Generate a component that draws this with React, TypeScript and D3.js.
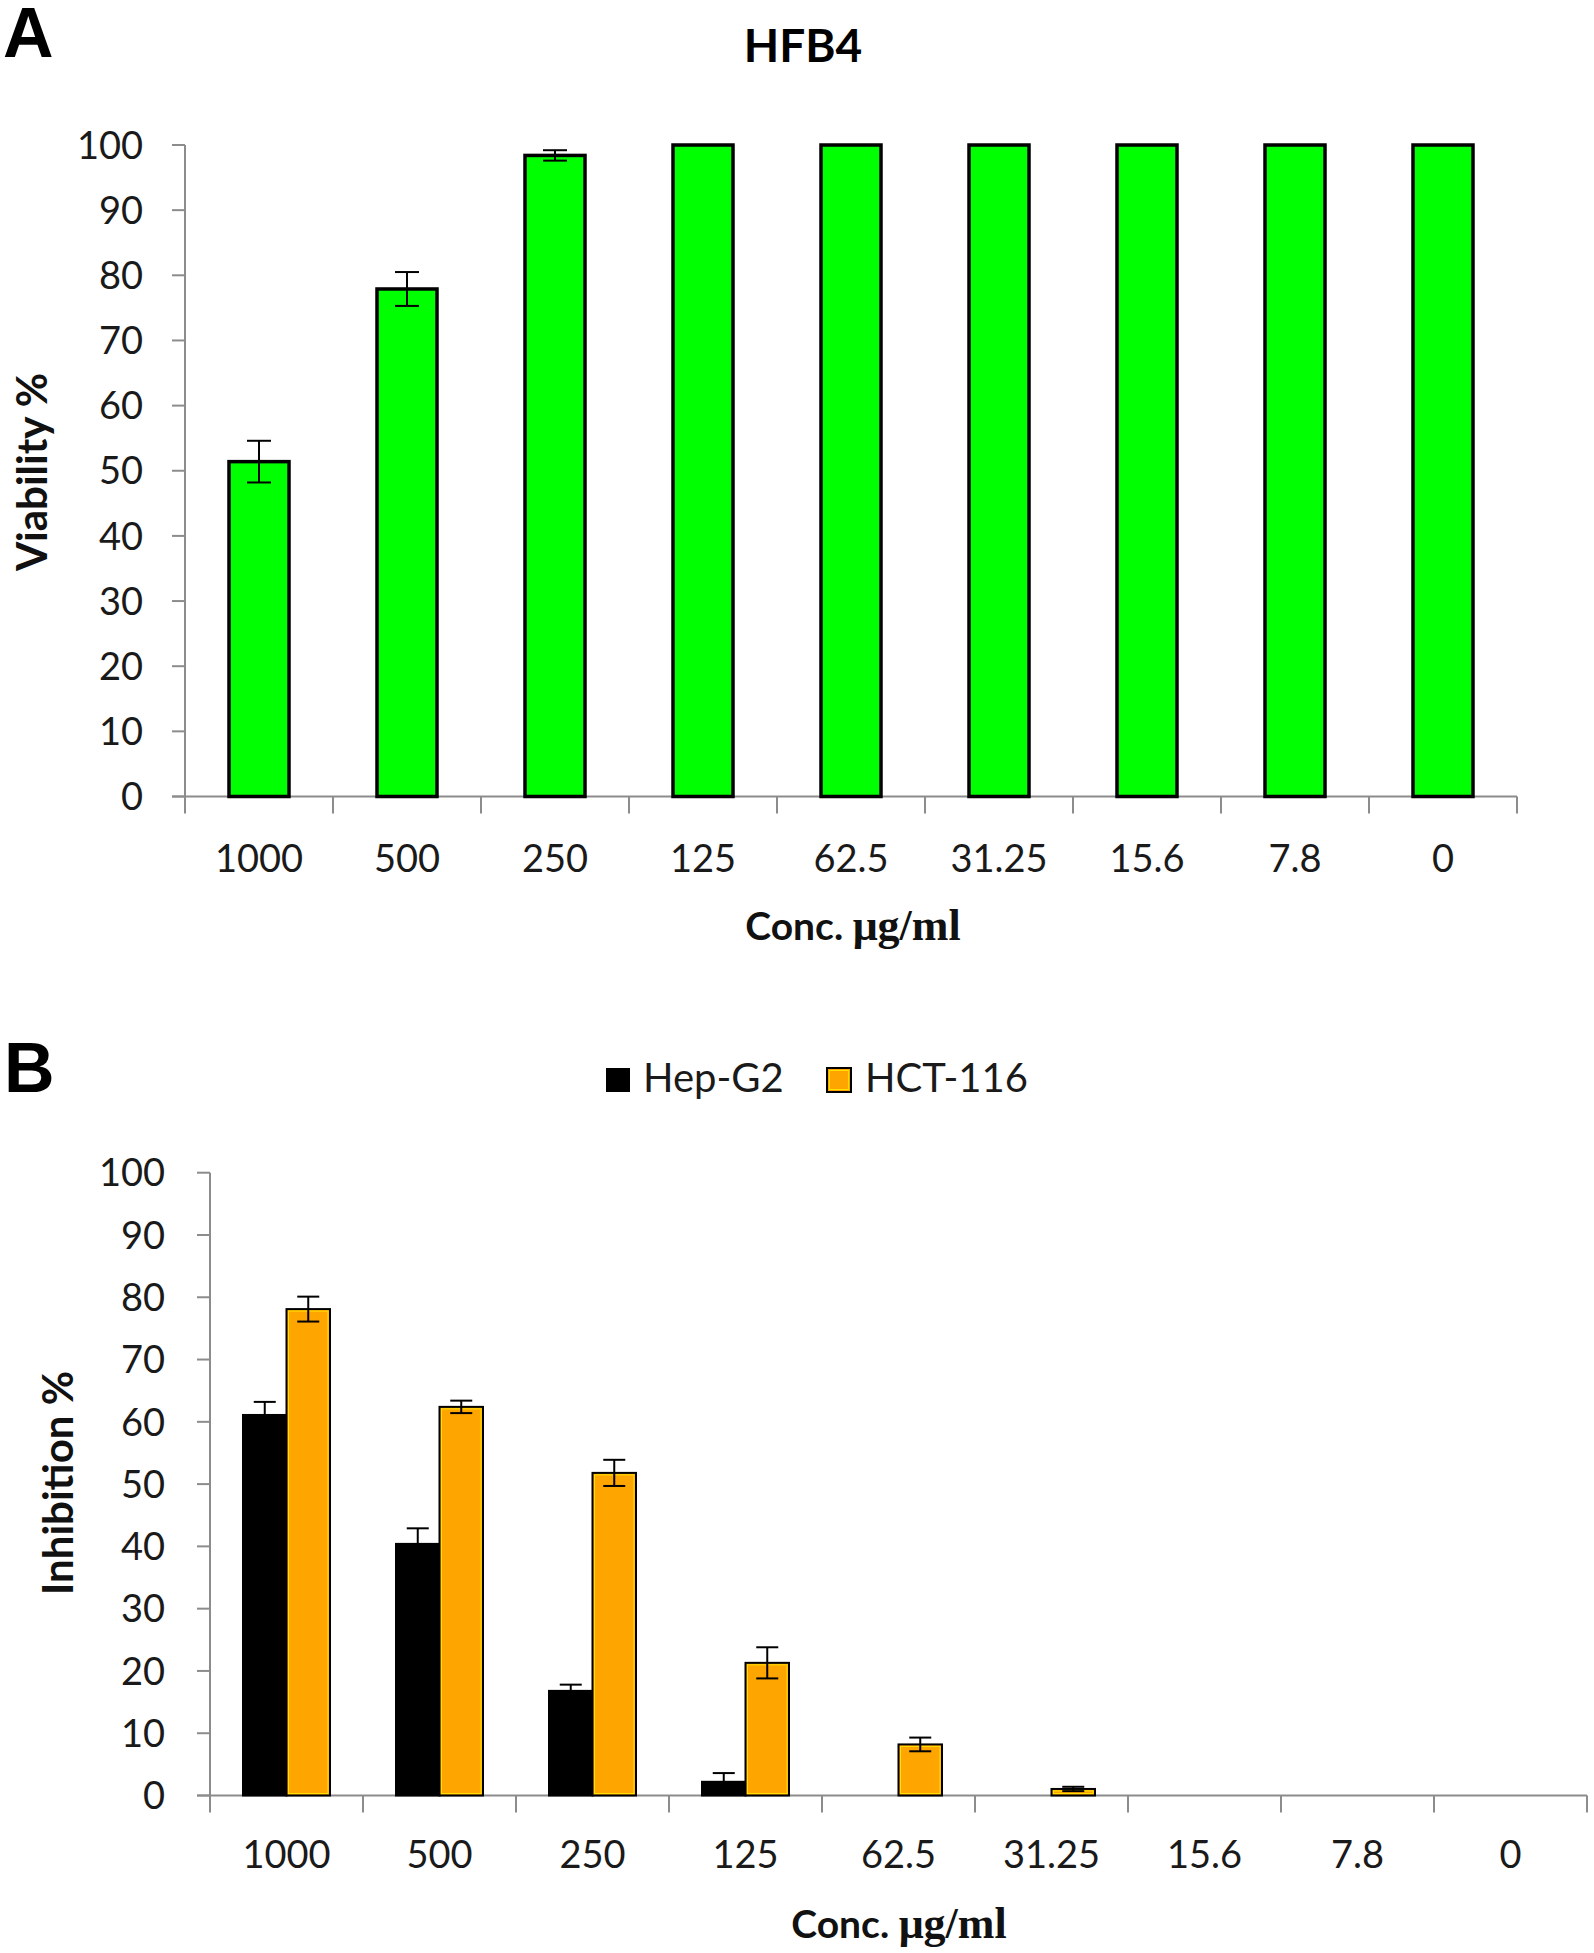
import React from "react";
import * as d3 from "d3";

const categories = ["1000", "500", "250", "125", "62.5", "31.25", "15.6", "7.8", "0"];
const viability = [51.4, 77.9, 98.4, 100, 100, 100, 100, 100, 100];
const viabilityErr = [3.2, 2.6, 0.8, 0, 0, 0, 0, 0, 0];
const seriesNames = ["Hep-G2", "HCT-116"];
const hepG2 = [61.1, 40.4, 16.8, 2.2, 0, 0, 0, 0, 0];
const hepG2Err = [2.1, 2.5, 1.0, 1.4, 0, 0, 0, 0, 0];
const hct116 = [78.1, 62.4, 51.8, 21.3, 8.2, 1.05, 0, 0, 0];
const hct116Err = [2.0, 1.0, 2.1, 2.5, 1.1, 0.35, 0, 0, 0];
const yTicks = [0, 10, 20, 30, 40, 50, 60, 70, 80, 90, 100];

const SANS = "Lato, 'Open Sans', sans-serif";
const SERIF = "'Liberation Serif', 'DejaVu Serif', serif";
const AXIS = "#8c8c8c";

export default function App() {
  // Panel A scales
  const xA = d3.scaleBand<string>().domain(categories).range([185, 1517]).padding(0);
  const yA = d3.scaleLinear().domain([0, 100]).range([796.5, 145]);
  const barWA = 60;

  // Panel B scales
  const xB = d3.scaleBand<string>().domain(categories).range([210, 1587]).padding(0);
  const yB = d3.scaleLinear().domain([0, 100]).range([1795.5, 1172.7]);
  const groupW = 87;
  const xSub = d3.scaleBand<string>().domain(seriesNames).range([-groupW / 2, groupW / 2]).padding(0);
  const seriesData = [
    { name: "Hep-G2", vals: hepG2, errs: hepG2Err, fill: "#000000" },
    { name: "HCT-116", vals: hct116, errs: hct116Err, fill: "#FFA500" },
  ];

  const boundariesA = [...categories.map((c) => xA(c)!), xA.range()[1]];
  const boundariesB = [...categories.map((c) => xB(c)!), xB.range()[1]];

  return (
    <svg
      width={1594}
      height={1953}
      style={{ position: "absolute", left: 0, top: 0, background: "#fff" }}
    >
      <rect x={0} y={0} width={1594} height={1953} fill="#fff" />
      {/* ===== Panel A ===== */}
      <text x={3} y={57} fontFamily="'Liberation Sans', Arial, sans-serif" fontWeight="bold" fontSize={70}>A</text>
      <text x={803} y={62} textAnchor="middle" fontFamily={SANS} fontWeight="bold" fontSize={46}>HFB4</text>

      {/* y axis */}
      <line x1={185} x2={185} y1={yA(100)} y2={yA(0)} stroke={AXIS} strokeWidth={2} />
      {yTicks.map((t) => (
        <g key={"ya" + t}>
          <line x1={172} x2={185} y1={yA(t)} y2={yA(t)} stroke={AXIS} strokeWidth={2} />
          <text x={143} y={yA(t)} dy="0.36em" textAnchor="end" fontFamily={SANS} fontSize={38} fill="#1a1a1a">{t}</text>
        </g>
      ))}
      {/* x axis */}
      <line x1={172} x2={1517} y1={yA(0)} y2={yA(0)} stroke={AXIS} strokeWidth={2} />
      {boundariesA.map((b, i) => (
        <line key={"xa" + i} x1={b} x2={b} y1={yA(0)} y2={yA(0) + 17} stroke={AXIS} strokeWidth={2} />
      ))}
      {/* bars A */}
      {categories.map((c, i) => {
        const cx = xA(c)! + xA.bandwidth() / 2;
        return (
          <g key={"ba" + c}>
            <rect x={cx - barWA / 2} y={yA(viability[i])} width={barWA} height={yA(0) - yA(viability[i])} fill="#00FF00" stroke="#000" strokeWidth={3.5} />
            {viabilityErr[i] > 0 && (
              <g stroke="#000" strokeWidth={2}>
                <line x1={cx} x2={cx} y1={yA(viability[i] + viabilityErr[i])} y2={yA(viability[i] - viabilityErr[i])} />
                <line x1={cx - 12} x2={cx + 12} y1={yA(viability[i] + viabilityErr[i])} y2={yA(viability[i] + viabilityErr[i])} />
                <line x1={cx - 12} x2={cx + 12} y1={yA(viability[i] - viabilityErr[i])} y2={yA(viability[i] - viabilityErr[i])} />
              </g>
            )}
          </g>
        );
      })}
      {categories.map((c) => (
        <text key={"la" + c} x={xA(c)! + xA.bandwidth() / 2} y={872} textAnchor="middle" fontFamily={SANS} fontSize={38} fill="#1a1a1a">{c}</text>
      ))}
      <text x={853} y={940} textAnchor="middle" fontWeight="bold" fill="#111">
        <tspan fontFamily={SANS} fontSize={39}>Conc. </tspan>
        <tspan fontFamily={SERIF} fontSize={44}>μg/ml</tspan>
      </text>
      <text transform="translate(47,472) rotate(-90)" textAnchor="middle" fontFamily={SANS} fontWeight="bold" fontSize={42} fill="#111">Viability %</text>

      {/* ===== Panel B ===== */}
      <text x={4} y={1092} fontFamily="'Liberation Sans', Arial, sans-serif" fontWeight="bold" fontSize={70}>B</text>
      {/* legend */}
      <rect x={606} y={1068} width={24} height={24} fill="#000" />
      <text x={643} y={1092} fontFamily={SANS} fontSize={40} fill="#1a1a1a">{seriesNames[0]}</text>
      <rect x={827} y={1068} width={24} height={24} fill="#FFA500" stroke="#000" strokeWidth={2} />
      <rect x={829.5} y={1070.5} width={19} height={19} fill="none" stroke="#FFE000" strokeWidth={1} />
      <text x={865} y={1092} fontFamily={SANS} fontSize={40} fill="#1a1a1a">{seriesNames[1]}</text>

      {/* y axis */}
      <line x1={210} x2={210} y1={yB(100)} y2={yB(0)} stroke={AXIS} strokeWidth={2} />
      {yTicks.map((t) => (
        <g key={"yb" + t}>
          <line x1={197} x2={210} y1={yB(t)} y2={yB(t)} stroke={AXIS} strokeWidth={2} />
          <text x={165} y={yB(t)} dy="0.36em" textAnchor="end" fontFamily={SANS} fontSize={38} fill="#1a1a1a">{t}</text>
        </g>
      ))}
      <line x1={197} x2={1587} y1={yB(0)} y2={yB(0)} stroke={AXIS} strokeWidth={2} />
      {boundariesB.map((b, i) => (
        <line key={"xb" + i} x1={b} x2={b} y1={yB(0)} y2={yB(0) + 17} stroke={AXIS} strokeWidth={2} />
      ))}
      {/* bars B */}
      {categories.map((c, i) => {
        const gx = xB(c)! + xB.bandwidth() / 2;
        return (
          <g key={"bb" + c}>
            {seriesData.map((s) => {
              const v = s.vals[i];
              if (v <= 0) return null;
              const x0 = gx + xSub(s.name)!;
              const w = xSub.bandwidth();
              const cx = x0 + w / 2;
              const e = s.errs[i];
              const h = yB(0) - yB(v);
              return (
                <g key={s.name}>
                  <rect x={x0} y={yB(v)} width={w} height={h} fill={s.fill} stroke="#000" strokeWidth={2} />
                  {s.name === "HCT-116" && h > 4 && (
                    <rect x={x0 + 2} y={yB(v) + 2} width={w - 4} height={h - 4} fill="none" stroke="#FFE000" strokeWidth={1} />
                  )}
                  {e > 0 && (
                    <g stroke="#000" strokeWidth={2}>
                      <line x1={cx} x2={cx} y1={yB(v + e)} y2={yB(v - e)} />
                      <line x1={cx - 11} x2={cx + 11} y1={yB(v + e)} y2={yB(v + e)} />
                      <line x1={cx - 11} x2={cx + 11} y1={yB(v - e)} y2={yB(v - e)} />
                    </g>
                  )}
                </g>
              );
            })}
          </g>
        );
      })}
      {categories.map((c) => (
        <text key={"lb" + c} x={xB(c)! + xB.bandwidth() / 2} y={1868} textAnchor="middle" fontFamily={SANS} fontSize={38} fill="#1a1a1a">{c}</text>
      ))}
      <text x={899} y={1938} textAnchor="middle" fontWeight="bold" fill="#111">
        <tspan fontFamily={SANS} fontSize={39}>Conc. </tspan>
        <tspan fontFamily={SERIF} fontSize={44}>μg/ml</tspan>
      </text>
      <text transform="translate(73,1483) rotate(-90)" textAnchor="middle" fontFamily={SANS} fontWeight="bold" fontSize={42} fill="#111">Inhibition %</text>
    </svg>
  );
}
